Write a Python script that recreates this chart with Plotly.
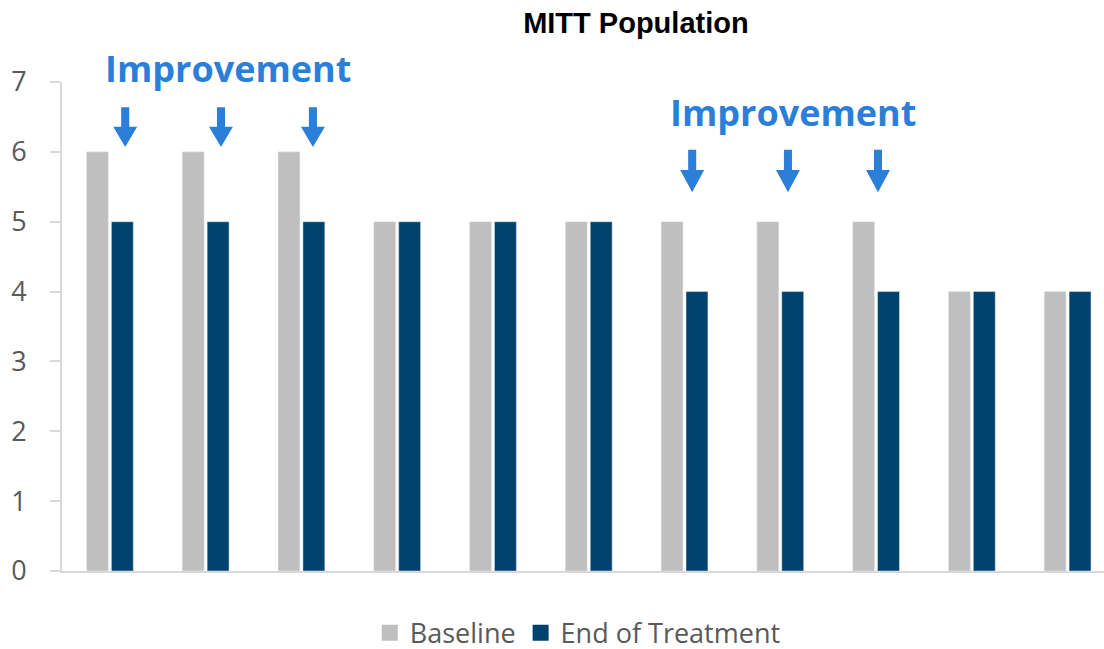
import plotly.graph_objects as go

categories = list(range(11))
baseline = [6, 6, 6, 5, 5, 5, 5, 5, 5, 4, 4]
end_of_treatment = [5, 5, 5, 5, 5, 5, 4, 4, 4, 4, 4]
series_names = ["Baseline", "End of Treatment"]
y_ticks = [0, 1, 2, 3, 4, 5, 6, 7]

GRAY = "#bfbfbf"
NAVY = "#00426e"
ARROW = "#2b7fd8"
TEXT = "#595959"
AXIS = "#d9d9d9"

fig = go.Figure()
fig.add_trace(go.Bar(x=categories, y=baseline, name=series_names[0], marker_color=GRAY,
                     showlegend=False, legendgroup="b"))
fig.add_trace(go.Bar(x=categories, y=end_of_treatment, name=series_names[1], marker_color=NAVY,
                     showlegend=False, legendgroup="e"))
# legend entries with larger square swatches
for name, col, grp in [(series_names[0], GRAY, "b"), (series_names[1], NAVY, "e")]:
    fig.add_trace(go.Scatter(x=[None], y=[None], mode="markers", name=name, legendgroup=grp,
                             marker=dict(symbol="square", size=18, color=col)))


def arrow_path(xc, tip, top, head_base, shaft_hw=0.042, head_hw=0.125):
    return (f"M{xc-shaft_hw},{top} L{xc+shaft_hw},{top} L{xc+shaft_hw},{head_base} "
            f"L{xc+head_hw},{head_base} L{xc},{tip} L{xc-head_hw},{head_base} "
            f"L{xc-shaft_hw},{head_base} Z")


shapes = []
for xc in [0.16, 1.16, 2.12]:
    shapes.append(dict(type="path", xref="x", yref="y", path=arrow_path(xc, 6.07, 6.64, 6.36),
                       fillcolor=ARROW, line=dict(width=0)))
for xc in [6.08, 7.08, 8.02]:
    shapes.append(dict(type="path", xref="x", yref="y", path=arrow_path(xc, 5.42, 6.03, 5.74),
                       fillcolor=ARROW, line=dict(width=0)))

annotations = [
    dict(text="<b>Improvement</b>", x=1.23, y=1.0286, xref="x", yref="paper", showarrow=False,
         font=dict(family="Open Sans", size=36, color=ARROW), xanchor="center", yanchor="middle"),
    dict(text="<b>Improvement</b>", x=7.13, y=6.57, xref="x", yref="y", showarrow=False,
         font=dict(family="Open Sans", size=36, color=ARROW), xanchor="center", yanchor="middle"),
]

fig.update_layout(
    width=1104, height=649,
    paper_bgcolor="white", plot_bgcolor="white",
    margin=dict(l=62, r=0, t=82, b=78, autoexpand=False),
    barmode="group", bargap=0.48, bargroupgap=0.12,
    title=dict(text="<b>MITT Population</b>", x=0.576, xanchor="center", y=1 - 23 / 649,
               yref="container", yanchor="middle",
               font=dict(family="Liberation Sans, Arial", size=29, color="black")),
    showlegend=True,
    legend=dict(orientation="h", x=0.495, xanchor="center", y=-0.127, yanchor="middle",
                itemsizing="trace",
                font=dict(family="Open Sans", size=27, color=TEXT)),
    shapes=shapes,
    annotations=annotations,
)
fig.update_xaxes(range=[-0.5, 10.38], showticklabels=False, showgrid=False, zeroline=False,
                 showline=True, linecolor=AXIS, linewidth=2, ticks="", automargin=False)
fig.update_yaxes(range=[0, 7], tickvals=y_ticks, showgrid=False, zeroline=False,
                 showline=True, linecolor=AXIS, linewidth=2, ticks="outside", ticklen=10,
                 tickcolor=AXIS, tickwidth=2, ticklabelstandoff=18, automargin=False,
                 tickfont=dict(family="Open Sans", size=27, color=TEXT))

fig.write_html("out.html", config={"displayModeBar": False},
               post_script="document.body.style.margin='0';")
